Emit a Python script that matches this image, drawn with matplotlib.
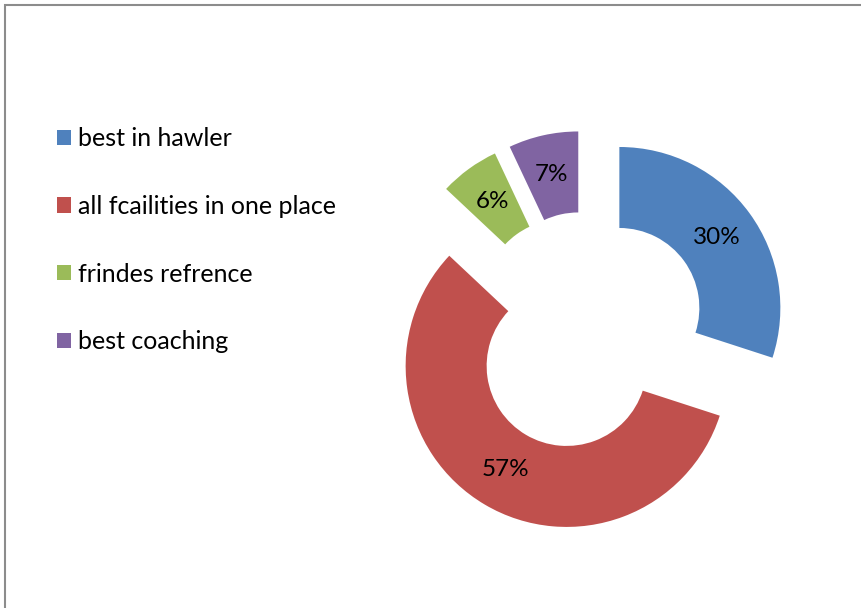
import matplotlib
matplotlib.use("Agg")
import matplotlib.pyplot as plt
from matplotlib.patches import Rectangle

labels = ['best in hawler', 'all fcailities in one place', 'frindes refrence', 'best coaching']
shares = [30, 57, 6, 7]
colors = ['#4F81BD', '#C0504D', '#9BBB59', '#8064A2']

W, H = 861, 608
plt.rcParams['font.family'] = ['Lato', 'DejaVu Sans']

fig = plt.figure(figsize=(W / 100, H / 100), dpi=100)
ax = fig.add_axes([0, 0, 1, 1])

# donut in pixel units: outer radius 161, ring 81 wide, every slice pulled out by 40
wedges, _, pcts = ax.pie(shares, colors=colors, radius=161, center=(587, H - 331.5),
                         startangle=90, counterclock=False, explode=[40] * 4,
                         wedgeprops={'width': 81, 'linewidth': 0},
                         autopct='%1.0f%%', pctdistance=0.75,
                         textprops={'fontsize': 17.5, 'color': 'black'})
ax.set_xlim(0, W)
ax.set_ylim(0, H)
ax.set_aspect('equal')
ax.axis('off')

fig.legend(wedges, labels, loc='upper left', bbox_to_anchor=(57 / W, (H - 127) / H),
           frameon=False, fontsize=18, handlelength=0.56, handleheight=0.56,
           handletextpad=0.28, labelspacing=1.79, borderpad=0, borderaxespad=0)

# chart area outline (only top and left edges fall inside the image)
fig.patches.append(Rectangle((5 / W, -0.1), 1.1, (H - 5) / H + 0.1, transform=fig.transFigure,
                             fill=False, edgecolor='#8c8c8c', linewidth=1.5))

fig.savefig('out.png', dpi=100)
